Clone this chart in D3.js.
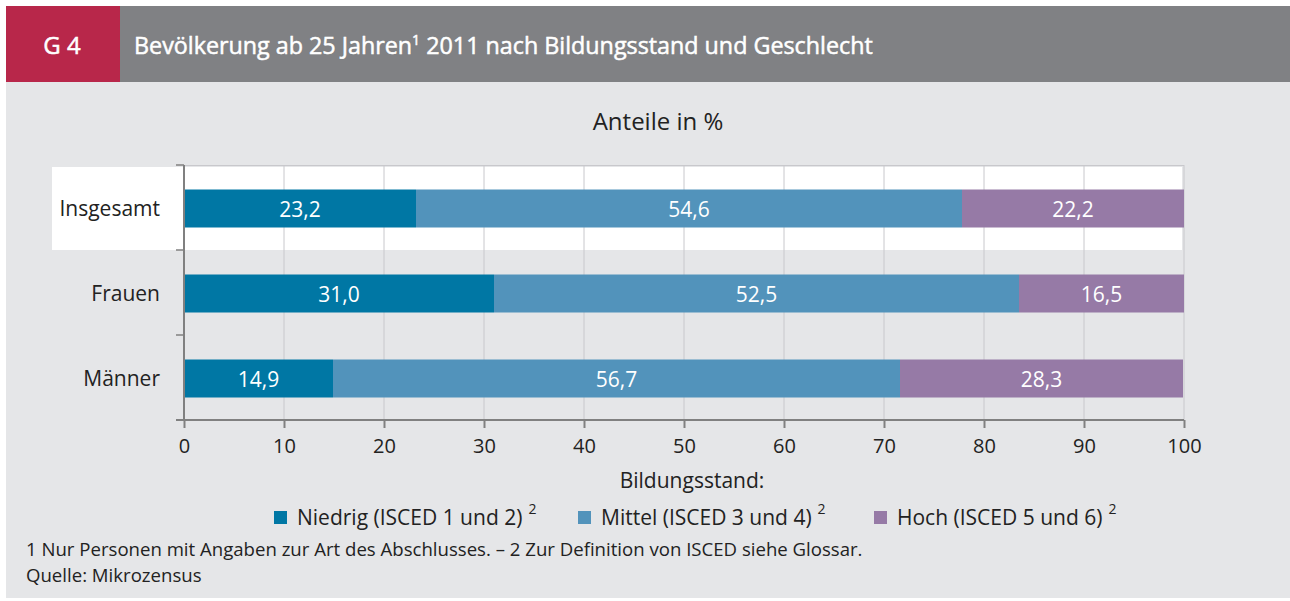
<!DOCTYPE html>
<html>
<head>
<meta charset="utf-8">
<script src="https://d3js.org/d3.v7.min.js"></script>
<style>
  body { margin: 0; background: #fff; }
  svg { display: block; font-family: "Open Sans", "Noto Sans", sans-serif; }
</style>
</head>
<body>
<svg id="chart" width="1290" height="601"></svg>
<script>
// data
var categories = ["Insgesamt", "Frauen", "Männer"];
var niedrig = [23.2, 31.0, 14.9];
var mittel = [54.6, 52.5, 56.7];
var hoch = [22.2, 16.5, 28.3];
var seriesNames = ["Niedrig (ISCED 1 und 2)", "Mittel (ISCED 3 und 4)", "Hoch (ISCED 5 und 6)"];
var xTicks = [0, 10, 20, 30, 40, 50, 60, 70, 80, 90, 100];

var colors = ["#0077a4", "#5293bb", "#967aa6"];

var svg = d3.select("#chart");

// header + panel
svg.append("rect").attr("x", 6).attr("y", 82).attr("width", 1284).attr("height", 516).attr("fill", "#e5e6e8");
svg.append("rect").attr("x", 6).attr("y", 6).attr("width", 114).attr("height", 76).attr("fill", "#b8274a");
svg.append("rect").attr("x", 120).attr("y", 6).attr("width", 1170).attr("height", 76).attr("fill", "#808184");
svg.append("text").attr("x", 62).attr("y", 54).attr("text-anchor", "middle")
  .attr("fill", "#fff").attr("stroke", "#fff").attr("stroke-width", 0.5)
  .style("font-size", "24px").text("G 4");
var title = svg.append("text").attr("x", 134).attr("y", 54)
  .attr("fill", "#fff").attr("stroke", "#fff").attr("stroke-width", 0.5)
  .style("font-size", "23.3px");
title.append("tspan").text("Bevölkerung ab 25 Jahren");
title.append("tspan").attr("dy", -9).style("font-size", "14px").text("1");
title.append("tspan").attr("dy", 9).text(" 2011 nach Bildungsstand und Geschlecht");

svg.append("text").attr("x", 658).attr("y", 130).attr("text-anchor", "middle")
  .attr("fill", "#222").style("font-size", "24px").text("Anteile in %");

// scales
var x = d3.scaleLinear().domain([0, 100]).range([184, 1184]);
var y = d3.scaleBand().domain(categories).range([165, 420]);
var barH = 38;

// highlight row
svg.append("rect").attr("x", 52).attr("y", y("Insgesamt") + 2)
  .attr("width", 1130).attr("height", y.bandwidth() - 2).attr("fill", "#fff");

// grid
svg.append("g").selectAll("line").data(xTicks.slice(1)).enter().append("line")
  .attr("x1", function(d) { return x(d); }).attr("x2", function(d) { return x(d); })
  .attr("y1", 165).attr("y2", 420).attr("stroke", "#c8c8cc").attr("stroke-width", 1);
svg.append("line").attr("x1", 184).attr("x2", 1184).attr("y1", 165.5).attr("y2", 165.5)
  .attr("stroke", "#c8c8cc");

// stacked bars
var stackData = categories.map(function(c, i) {
  return { cat: c, vals: [niedrig[i], mittel[i], hoch[i]] };
});
stackData.forEach(function(d) {
  var start = 0;
  d.vals.forEach(function(v, j) {
    var yc = y(d.cat) + y.bandwidth() / 2 + 1;
    svg.append("rect")
      .attr("x", x(start)).attr("y", yc - barH / 2)
      .attr("width", x(start + v) - x(start)).attr("height", barH)
      .attr("fill", colors[j]);
    svg.append("text")
      .attr("x", x(start + v / 2)).attr("y", yc + 8)
      .attr("text-anchor", "middle").attr("fill", "#fff")
      .style("font-size", "21px")
      .text(d3.format(".1f")(v).replace(".", ","));
    start += v;
  });
});

// y axis
var yAxis = svg.append("g");
yAxis.append("line").attr("x1", 184).attr("x2", 184).attr("y1", 165).attr("y2", 420)
  .attr("stroke", "#808080").attr("stroke-width", 2);
yAxis.selectAll("line.tk").data([165, 250, 335, 420]).enter().append("line")
  .attr("class", "tk").attr("x1", 176).attr("x2", 184)
  .attr("y1", function(d) { return d; }).attr("y2", function(d) { return d; })
  .attr("stroke", "#808080").attr("stroke-width", 1.5);
yAxis.selectAll("text").data(categories).enter().append("text")
  .attr("x", 160).attr("y", function(d) { return y(d) + y.bandwidth() / 2 + 8; })
  .attr("text-anchor", "end").attr("fill", "#222").style("font-size", "21px")
  .text(function(d) { return d; });

// x axis
var xAxis = d3.axisBottom(x).tickValues(xTicks).tickSize(8).tickPadding(11);
var gx = svg.append("g").attr("transform", "translate(0,420)").call(xAxis);
gx.select(".domain").attr("stroke", "#808080").attr("stroke-width", 2).attr("d", "M176,0H1184");
gx.selectAll(".tick line").attr("stroke", "#808080").attr("stroke-width", 2);
gx.selectAll(".tick text").attr("fill", "#222").style("font-size", "20px")
  .style("font-family", "'Open Sans', 'Noto Sans', sans-serif");

svg.append("text").attr("x", 692).attr("y", 488).attr("text-anchor", "middle")
  .attr("fill", "#222").style("font-size", "21px").text("Bildungsstand:");

// legend
var legendX = [274, 578, 874];
seriesNames.forEach(function(n, i) {
  svg.append("rect").attr("x", legendX[i]).attr("y", 511).attr("width", 13).attr("height", 13)
    .attr("fill", colors[i]);
  var t = svg.append("text").attr("x", legendX[i] + 23).attr("y", 525)
    .attr("fill", "#222").style("font-size", "21px");
  t.append("tspan").text(n);
  t.append("tspan").attr("dx", 6).attr("dy", -11).style("font-size", "14px").text("2");
});

// footnotes
svg.append("text").attr("x", 26).attr("y", 556).attr("fill", "#222").style("font-size", "18.6px")
  .text("1 Nur Personen mit Angaben zur Art des Abschlusses. – 2 Zur Definition von ISCED siehe Glossar.");
svg.append("text").attr("x", 26).attr("y", 582).attr("fill", "#222").style("font-size", "18.6px")
  .text("Quelle: Mikrozensus");
</script>
</body>
</html>
